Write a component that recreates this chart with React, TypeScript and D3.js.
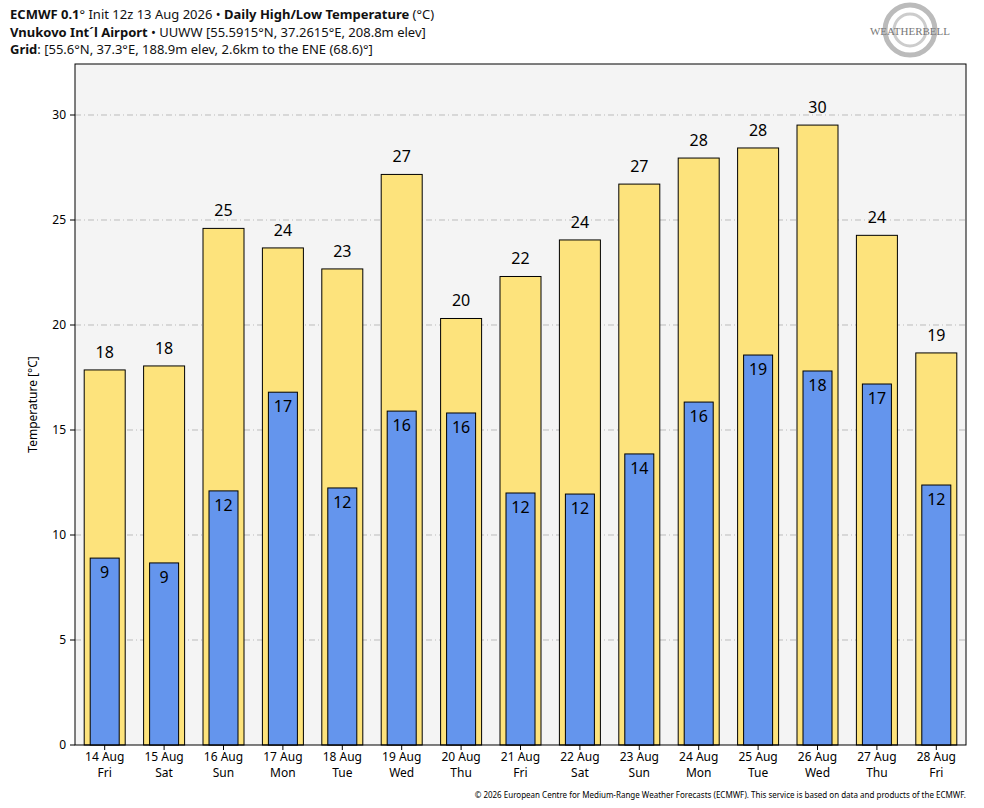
import React from "react";
import * as d3 from "d3";

const days = ["14 Aug", "15 Aug", "16 Aug", "17 Aug", "18 Aug", "19 Aug", "20 Aug", "21 Aug", "22 Aug", "23 Aug", "24 Aug", "25 Aug", "26 Aug", "27 Aug", "28 Aug"];
const weekdays = ["Fri", "Sat", "Sun", "Mon", "Tue", "Wed", "Thu", "Fri", "Sat", "Sun", "Mon", "Tue", "Wed", "Thu", "Fri"];
const highs = [17.86, 18.05, 24.6, 23.67, 22.67, 27.17, 20.31, 22.31, 24.05, 26.71, 27.95, 28.43, 29.52, 24.27, 18.67];
const lows = [8.9, 8.67, 12.1, 16.8, 12.24, 15.9, 15.81, 12.0, 11.95, 13.86, 16.33, 18.57, 17.81, 17.19, 12.38];
const yTicks = [0, 5, 10, 15, 20, 25, 30];

const W = 984, H = 808;
const left = 75, right = 966, top = 64, bottom = 745;
const font = "'Noto Sans', sans-serif";

export default function App() {
  const x = d3.scaleBand<number>().domain(d3.range(days.length)).range([left, right]).padding(0);
  const y = d3.scaleLinear().domain([0, 30]).range([bottom, 115]);
  const bw = x.bandwidth();
  const hiW = 41, loW = 29;

  return (
    <div style={{ position: "fixed", left: 0, top: 0 }}>
      <svg width={W} height={H} style={{ display: "block", fontFamily: font }}>
        <rect width={W} height={H} fill="#fff" />
        <text x={10} y={19} fontSize={13} fill="#111">
          <tspan fontWeight="bold">ECMWF 0.1</tspan>° Init 12z 13 Aug 2026 • <tspan fontWeight="bold">Daily High/Low Temperature</tspan> (°C)
        </text>
        <text x={10} y={37} fontSize={13} fill="#111">
          <tspan fontWeight="bold">Vnukovo Int´l Airport</tspan> • UUWW [55.5915°N, 37.2615°E, 208.8m elev]
        </text>
        <text x={10} y={54} fontSize={13} fill="#111">
          <tspan fontWeight="bold">Grid</tspan>: [55.6°N, 37.3°E, 188.9m elev, 2.6km to the ENE (68.6)°]
        </text>
        <g transform="translate(910,30)">
          <circle r={25} fill="none" stroke="#bbb" strokeWidth={5} />
          <circle r={16} fill="none" stroke="#ccc" strokeWidth={3} />
          <text x={0} y={5} textAnchor="middle" fontSize={11} fill="#777" fontFamily="serif">WEATHERBELL</text>
        </g>
        <rect x={left} y={top} width={right - left} height={bottom - top} fill="#f4f4f4" stroke="none" />
        {yTicks.map((t) => (
          <g key={t}>
            {t > 0 && <line x1={left} x2={right} y1={y(t)} y2={y(t)} stroke="#bbb" strokeDasharray="6,3,1,3" />}
            <line x1={left - 5} x2={left} y1={y(t)} y2={y(t)} stroke="#000" />
            <text x={left - 9} y={y(t) + 4} textAnchor="end" fontSize={12}>{t}</text>
          </g>
        ))}
        {days.map((d, i) => {
          const cx = (x(i) as number) + bw / 2;
          return (
            <g key={d}>
              <rect x={cx - hiW / 2} y={y(highs[i])} width={hiW} height={bottom - y(highs[i])} fill="#fde37c" stroke="#000" />
              <rect x={cx - loW / 2} y={y(lows[i])} width={loW} height={bottom - y(lows[i])} fill="#6495ed" stroke="#000" />
              <text x={cx} y={y(highs[i]) - 12} textAnchor="middle" fontSize={16}>{Math.round(highs[i])}</text>
              <text x={cx} y={y(lows[i]) + 20} textAnchor="middle" fontSize={16}>{Math.round(lows[i])}</text>
              <line x1={cx} x2={cx} y1={bottom} y2={bottom + 5} stroke="#000" />
              <text x={cx} y={bottom + 16} textAnchor="middle" fontSize={12}>{d}</text>
              <text x={cx} y={bottom + 32} textAnchor="middle" fontSize={12}>{weekdays[i]}</text>
            </g>
          );
        })}
        <rect x={left} y={top} width={right - left} height={bottom - top} fill="none" stroke="#000" />
        <text transform={`translate(37,${(top + bottom) / 2}) rotate(-90)`} textAnchor="middle" fontSize={12}>Temperature [°C]</text>
        <text x={right} y={798} textAnchor="end" fontSize={8}>© 2026 European Centre for Medium-Range Weather Forecasts (ECMWF). This service is based on data and products of the ECMWF.</text>
      </svg>
    </div>
  );
}
